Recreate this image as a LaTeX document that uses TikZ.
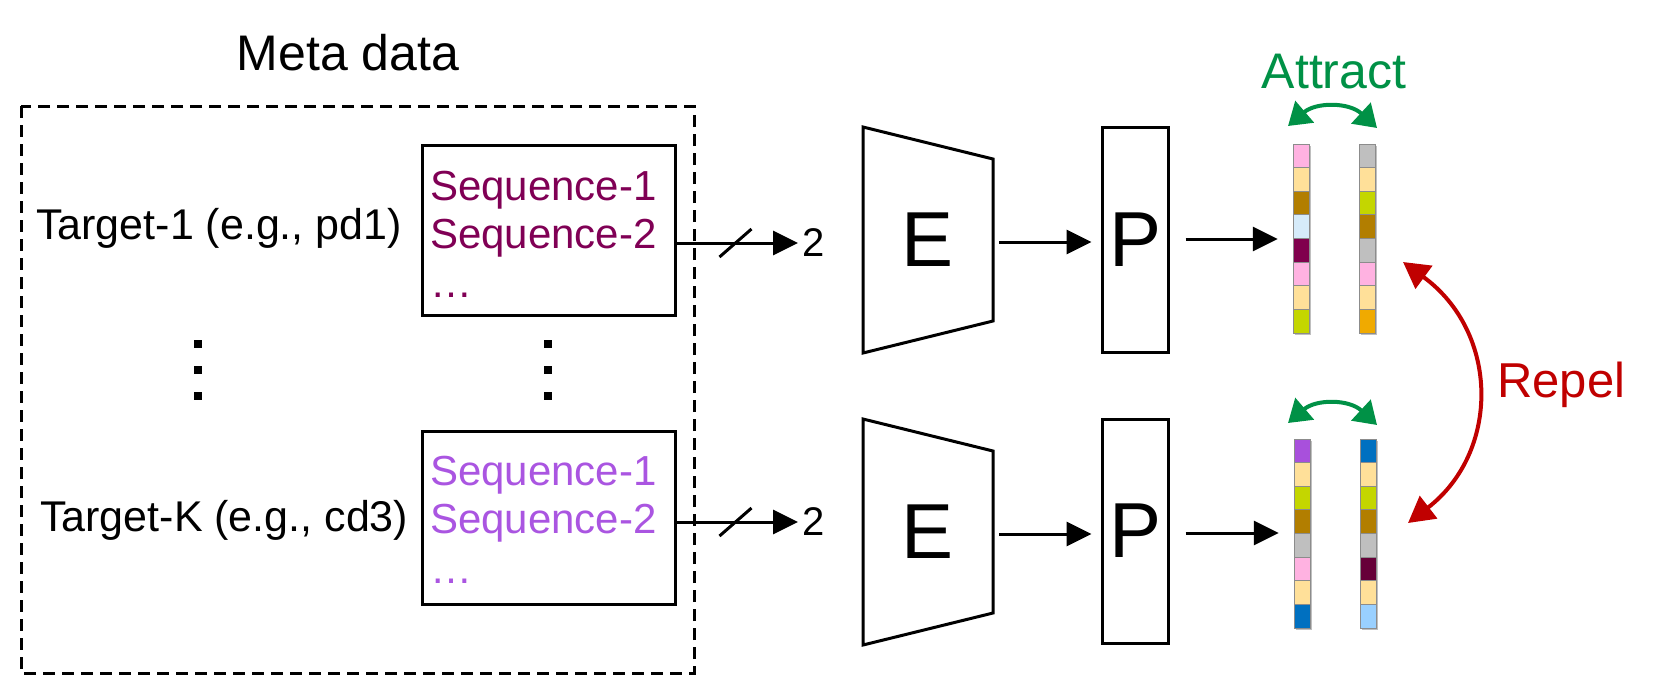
\documentclass[tikz,border=0pt]{standalone}
\usepackage{fontspec}
\setmainfont{Liberation Sans}
\usetikzlibrary{arrows.meta,calc}
\definecolor{seqdark}{RGB}{128,0,85}
\definecolor{seqlight}{RGB}{170,85,225}
\definecolor{attgreen}{RGB}{0,145,70}
\definecolor{repred}{RGB}{192,0,0}
\definecolor{cpink}{RGB}{255,178,225}
\definecolor{ctan}{RGB}{255,224,153}
\definecolor{cbrown}{RGB}{178,126,0}
\definecolor{clblue}{RGB}{214,235,250}
\definecolor{cmaroon}{RGB}{128,0,77}
\definecolor{cygreen}{RGB}{196,214,0}
\definecolor{cgray}{RGB}{191,191,191}
\definecolor{corange}{RGB}{240,170,0}
\definecolor{cpurple}{RGB}{168,80,220}
\definecolor{cblue}{RGB}{0,112,192}
\definecolor{cdmaroon}{RGB}{102,0,56}
\definecolor{csky}{RGB}{153,208,255}
\newcommand\pxfont[1]{\fontsize{#1}{#1}\selectfont}
\newcommand\colbar[3]{%
  \fill[black!25] (#1+2,#2+2) rectangle ++(16,189);
  \foreach \c [count=\i from 0] in {#3} {
    \filldraw[fill=\c, draw=black!45, line width=0.8pt] (#1,{#2+\i*23.625}) rectangle ++(16,23.625);
  }
}
\begin{document}
\begin{tikzpicture}[x=1pt,y=-1pt,
  lbl/.style={inner sep=0pt, font=\pxfont{42}},
  seqbox/.style={draw, line width=3pt, minimum width=253pt, inner sep=0pt},
  arr/.style={line width=3pt, -{Triangle[length=25pt,width=24pt]}},
  pbox/.style={draw, line width=3pt, minimum width=66pt, minimum height=225pt, inner sep=0pt, font=\pxfont{78}},
  enc/.style={draw, line width=3pt, line join=miter},
  sqdot/.style={fill, minimum size=8pt, inner sep=0pt},
  grnarr/.style={draw=attgreen, line width=4pt, {Triangle[length=22pt,width=28pt]}-{Triangle[length=22pt,width=28pt]}},
  redarr/.style={draw=repred, line width=4pt, {Triangle[length=26pt,width=28pt]}-{Triangle[length=26pt,width=28pt]}},
  barnode/.style={minimum width=16pt, minimum height=189pt, inner sep=0pt}
]
\useasboundingbox (0,0) rectangle (1661,678);

% Meta data frame
\node[lbl, font=\pxfont{50}, anchor=base] (meta) at (348,70) {Meta data};
\draw[line width=3pt, dash pattern=on 12pt off 7pt] (21,106) rectangle (694,673);

% targets
\node[lbl, font=\pxfont{43}, anchor=base west] (t1) at (36,239) {Target-1 (e.g., pd1)};
\node[lbl, font=\pxfont{43}, anchor=base west] (tk) at (40,531) {Target-K (e.g., cd3)};

% sequence boxes
\node[seqbox, minimum height=170pt] (s1) at (548.5,230) {};
\node[seqbox, minimum height=173pt] (s2) at (548.5,517.5) {};
\node[lbl, text=seqdark, anchor=base west] (s1a) at (430,200) {Sequence-1};
\node[lbl, text=seqdark, anchor=base west] (s1b) at (430,248) {Sequence-2};
\node[lbl, text=seqdark, anchor=base west] (s1c) at (430,297) {…};
\node[lbl, text=seqlight, anchor=base west] (s2a) at (430,485) {Sequence-1};
\node[lbl, text=seqlight, anchor=base west] (s2b) at (430,533) {Sequence-2};
\node[lbl, text=seqlight, anchor=base west] (s2c) at (430,583) {…};

% vertical dots
\foreach \yy [count=\k] in {344,370,396} {
  \node[sqdot] (dl\k) at (198,\yy) {};
  \node[sqdot] (dr\k) at (548,\yy) {};
}

% input arrows
\node[lbl, font=\pxfont{40}, anchor=west] (two1) at (802,243) {2};
\node[lbl, font=\pxfont{40}, anchor=west] (two2) at (802,522) {2};
\draw[arr, shorten >=4pt] (s1.east |- two1.west) -- coordinate[pos=0.47] (sl1) (two1.west);
\draw[arr, shorten >=4pt] (s2.east |- two2.west) -- coordinate[pos=0.47] (sl2) (two2.west);
\draw[line width=3pt] ($(sl1)+(-16,14)$) -- ($(sl1)+(16,-14)$);
\draw[line width=3pt] ($(sl2)+(-16,14)$) -- ($(sl2)+(16,-14)$);

% encoders
\draw[enc] (863,127) -- (993,159) -- (993,321) -- (863,353) -- cycle;
\draw[enc] (863,419) -- (993,451) -- (993,613) -- (863,645) -- cycle;
\node[lbl, font=\pxfont{78}] (e1) at (927,240) {E};
\node[lbl, font=\pxfont{78}] (e2) at (927,532) {E};
\coordinate (e1r) at (993,242);
\coordinate (e2r) at (993,534);

% projection heads
\node[pbox] (p1) at (1135,239.5) {P};
\node[pbox, minimum height=224pt] (p2) at (1135,531) {P};
\draw[arr, shorten <=6pt, shorten >=9pt] (e1r) -- (e1r -| p1.west);
\draw[arr, shorten <=6pt, shorten >=9pt] (e2r) -- (e2r -| p2.west);

% embedding bars
\colbar{1293}{144}{cpink,ctan,cbrown,clblue,cmaroon,cpink,ctan,cygreen}
\colbar{1359}{144}{cgray,ctan,cygreen,cbrown,cgray,cpink,ctan,corange}
\colbar{1294}{439}{cpurple,ctan,cygreen,cbrown,cgray,cpink,ctan,cblue}
\colbar{1360}{439}{cblue,ctan,cygreen,cbrown,cgray,cdmaroon,ctan,csky}
\node[barnode] (b1) at (1301,238.5) {};
\node[barnode] (b2) at (1367,238.5) {};
\node[barnode] (b3) at (1302,533.5) {};
\node[barnode] (b4) at (1368,533.5) {};
\coordinate (p1r) at (p1.east |- 0,239);
\coordinate (p2r) at (p2.east |- 0,533);
\draw[arr, shorten <=16pt, shorten >=15pt] (p1r) -- (p1r -| b1.west);
\draw[arr, shorten <=16pt, shorten >=15pt] (p2r) -- (p2r -| b3.west);

% attract arcs
\coordinate (a1l) at (1288,126);
\coordinate (a1r) at (1377,128);
\coordinate (a2l) at (1288,423);
\coordinate (a2r) at (1377,425);
\draw[grnarr] (a1l) .. controls (1316,102) and (1349,102) .. (a1r);
\draw[grnarr] (a2l) .. controls (1316,399) and (1349,399) .. (a2r);
\node[lbl, font=\pxfont{50}, text=attgreen, anchor=base] (att) at (1334,88) {Attract};

% repel arc
\coordinate (r1) at (1403,262);
\coordinate (r2) at (1408,523);
\draw[redarr] (r1) .. controls (1500,333) and (1500,452) .. (r2);
\node[lbl, font=\pxfont{49}, text=repred, anchor=base west] (rep) at (1497,397) {Repel};
\end{tikzpicture}
\end{document}
